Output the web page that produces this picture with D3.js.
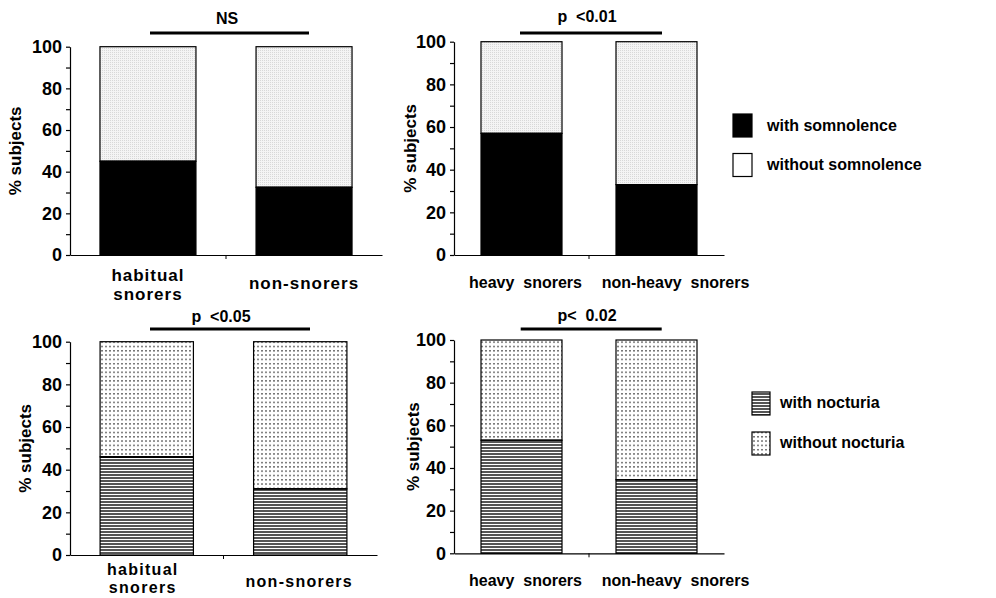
<!DOCTYPE html>
<html>
<head>
<meta charset="utf-8">
<script src="https://cdn.jsdelivr.net/npm/d3@7"></script>
<style>
  body { margin: 0; background: #fff; }
  text { font-family: "Liberation Sans", Arial, sans-serif; font-weight: bold; fill: #000; }
</style>
</head>
<body>
<div id="vis"></div>
<script>
// values (% subjects in the lower segment)
var catsA = [["habitual", "snorers"], ["non-snorers"]];
var catsB = [["heavy  snorers"], ["non-heavy  snorers"]];
var somnolenceA = [45, 32.5];
var somnolenceB = [57, 33];
var nocturiaA = [46, 31];
var nocturiaB = [53, 34.5];
var yTicks = [0, 20, 40, 60, 80, 100];
var yMinor = [10, 30, 50, 70, 90];
var pLabels = ["NS", "p  <0.01", "p  <0.05", "p<  0.02"];
var legendTop = ["with somnolence", "without somnolence"];
var legendBottom = ["with nocturia", "without nocturia"];

var w = 996, h = 598;
var svg = d3.select("#vis").append("svg")
  .attr("width", w)
  .attr("height", h);

var defs = svg.append("defs");

// light stipple for "without somnolence"
var stip = defs.append("pattern").attr("id", "stipple")
  .attr("patternUnits", "userSpaceOnUse").attr("width", 2).attr("height", 2);
stip.append("rect").attr("width", 2).attr("height", 2).attr("fill", "#f4f4f4");
stip.append("rect").attr("width", 1).attr("height", 1).attr("fill", "#d8d8d8");

// horizontal lines for "with nocturia"
var hl = defs.append("pattern").attr("id", "hlines")
  .attr("patternUnits", "userSpaceOnUse").attr("width", 6).attr("height", 3);
hl.append("rect").attr("width", 6).attr("height", 3).attr("fill", "#fff");
hl.append("rect").attr("width", 6).attr("height", 2).attr("fill", "#555");

// dotted rows for "without nocturia"
var dt = defs.append("pattern").attr("id", "dots")
  .attr("patternUnits", "userSpaceOnUse").attr("width", 4).attr("height", 4.3);
dt.append("rect").attr("width", 4).attr("height", 4.3).attr("fill", "#fff");
dt.append("rect").attr("x", 1).attr("y", 2).attr("width", 2).attr("height", 1).attr("fill", "#333");

var panels = [
  { cats: catsA, vals: somnolenceA, x0: 70, x1: 382, yTop: 46.7, yBot: 255, pi: 0.385, po: 0.192,
    low: "#000", high: "url(#stipple)", p: pLabels[0], pY: 24, pX: 227, lineY: 33, lineX: [150, 309],
    yLabX: 15, labY: [[281, 300], [289]], labDx: [0, 0], spacing: 1, labSize: 17, sep: 1.2 },
  { cats: catsB, vals: somnolenceB, x0: 454, x1: 724, yTop: 41.7, yBot: 255, pi: 0.4, po: 0.2,
    low: "#000", high: "url(#stipple)", p: pLabels[1], pY: 22, pX: 587, lineY: 33, lineX: [520, 662],
    yLabX: 410, labY: [[288], [288]], labDx: [4, 19], spacing: 0, labSize: 16, sep: 1.2 },
  { cats: catsA, vals: nocturiaA, x0: 70, x1: 377, yTop: 341.7, yBot: 555, pi: 0.392, po: 0.196,
    low: "url(#hlines)", high: "url(#dots)", p: pLabels[2], pY: 322, pX: 221, lineY: 329, lineX: [150, 310],
    yLabX: 25, labY: [[575, 593], [587]], labDx: [-4, -1], spacing: 1.3, labSize: 16, sep: 2 },
  { cats: catsB, vals: nocturiaB, x0: 454, x1: 724, yTop: 340, yBot: 553.3, pi: 0.4, po: 0.2,
    low: "url(#hlines)", high: "url(#dots)", p: pLabels[3], pY: 321, pX: 587, lineY: 329, lineX: [520.7, 661.7],
    yLabX: 413, labY: [[586], [586]], labDx: [4, 19], spacing: 0, labSize: 16, sep: 1.2 }
];

panels.forEach(function(pn) {
  var g = svg.append("g");
  var names = pn.cats.map(function(c) { return c.join(" "); });

  var x = d3.scaleBand().domain(names).range([pn.x0, pn.x1])
    .paddingInner(pn.pi).paddingOuter(pn.po);
  var y = d3.scaleLinear().domain([0, 100]).range([pn.yBot, pn.yTop]);

  // stacked bars
  var bars = g.selectAll(".bar").data(names).enter().append("g");
  bars.append("rect")
    .attr("x", function(d) { return x(d); })
    .attr("y", y(100))
    .attr("width", x.bandwidth())
    .attr("height", function(d, i) { return y(pn.vals[i]) - y(100); })
    .attr("fill", pn.high)
    .attr("stroke", "#000").attr("stroke-width", 1.2);
  bars.append("rect")
    .attr("x", function(d) { return x(d); })
    .attr("y", function(d, i) { return y(pn.vals[i]); })
    .attr("width", x.bandwidth())
    .attr("height", function(d, i) { return y(0) - y(pn.vals[i]); })
    .attr("fill", pn.low)
    .attr("stroke", "#000").attr("stroke-width", 1.2);
  // boundary between the two segments
  bars.append("line")
    .attr("x1", function(d) { return x(d); })
    .attr("x2", function(d) { return x(d) + x.bandwidth(); })
    .attr("y1", function(d, i) { return y(pn.vals[i]); })
    .attr("y2", function(d, i) { return y(pn.vals[i]); })
    .attr("stroke", "#000")
    .attr("stroke-width", function(d, i) { return i === 0 ? pn.sep : 1.2; });

  // y axis
  var yAxis = g.append("g").attr("transform", "translate(" + pn.x0 + ",0)")
    .call(d3.axisLeft(y).tickValues(yTicks).tickSize(4).tickSizeOuter(0).tickPadding(4));
  g.append("g").attr("transform", "translate(" + pn.x0 + ",0)")
    .call(d3.axisLeft(y).tickValues(yMinor).tickSize(4).tickSizeOuter(0).tickFormat(""))
    .select(".domain").remove();
  yAxis.selectAll("text").style("font-size", "18px").style("font-family", "Liberation Sans, Arial, sans-serif")
    .style("font-weight", "bold");

  // x axis
  var xAxis = g.append("g").attr("transform", "translate(0," + pn.yBot + ")")
    .call(d3.axisBottom(x).tickValues([]).tickSizeOuter(0));
  var mid = (x(names[0]) + x.bandwidth() + x(names[1])) / 2;
  xAxis.append("line").attr("x1", mid).attr("x2", mid).attr("y1", 0).attr("y2", 4)
    .attr("stroke", "#000");
  g.selectAll(".domain").attr("stroke-width", 1.2);
  g.selectAll(".tick line").attr("stroke-width", 1.2);

  // category labels
  pn.cats.forEach(function(lines, i) {
    lines.forEach(function(t, j) {
      g.append("text")
        .attr("x", x(names[i]) + x.bandwidth() / 2 + pn.labDx[i])
        .attr("y", pn.labY[i][j])
        .attr("text-anchor", "middle")
        .style("white-space", "pre")
        .style("font-size", pn.labSize + "px")
        .style("letter-spacing", pn.spacing + "px")
        .text(t);
    });
  });

  // y label
  g.append("text")
    .attr("transform", "translate(" + (pn.yLabX + 6) + "," + ((pn.yTop + pn.yBot) / 2) + ") rotate(-90)")
    .attr("text-anchor", "middle")
    .style("font-size", "17px")
    .text("% subjects");

  // significance
  g.append("line").attr("x1", pn.lineX[0]).attr("x2", pn.lineX[1])
    .attr("y1", pn.lineY).attr("y2", pn.lineY)
    .attr("stroke", "#000").attr("stroke-width", 3);
  g.append("text").attr("x", pn.pX).attr("y", pn.pY)
    .attr("text-anchor", "middle")
    .style("white-space", "pre")
    .style("font-size", "16px")
    .text(pn.p);
});

// legends
function legend(items, fills, sx, sy, sw, sh, gap, tx, ty) {
  items.forEach(function(t, i) {
    svg.append("rect").attr("x", sx).attr("y", sy + i * gap)
      .attr("width", sw).attr("height", sh)
      .attr("fill", fills[i]).attr("stroke", "#000").attr("stroke-width", 1.2);
    svg.append("text").attr("x", tx).attr("y", ty + i * gap)
      .style("font-size", "16px").text(t);
  });
}
legend(legendTop, ["#000", "#fff"], 733, 114, 19, 23, 39.5, 767, 130.5);
legend(legendBottom, ["url(#hlines)", "url(#dots)"], 752, 392, 18, 23, 40, 780, 408);
</script>
</body>
</html>
